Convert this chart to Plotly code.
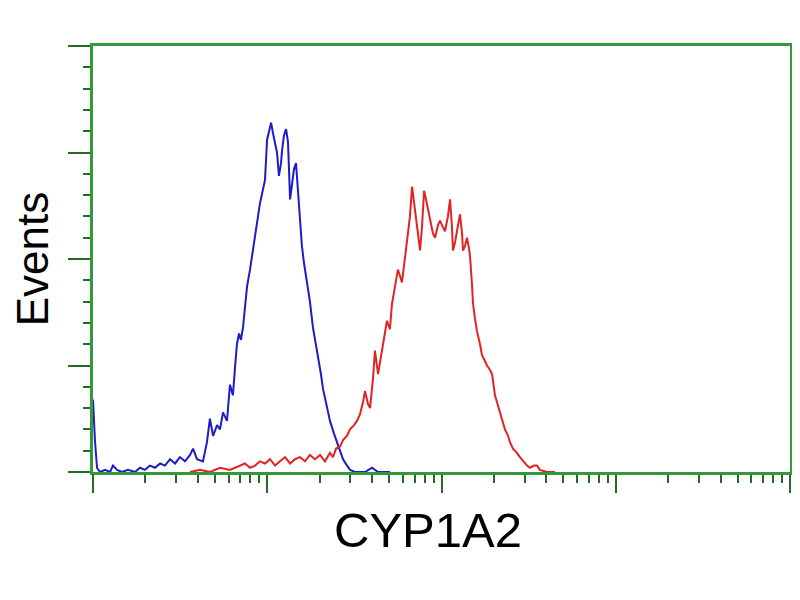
import plotly.graph_objects as go

# Fluorescence intensity given as log10 decades (0..4), counts per channel
blue_decade = [0.000, 0.011, 0.023, 0.040, 0.069, 0.098, 0.115, 0.138, 0.166, 0.201,
               0.241, 0.270, 0.298, 0.327, 0.356, 0.385, 0.413, 0.442, 0.471, 0.499,
               0.528, 0.557, 0.574, 0.597, 0.631, 0.654, 0.671, 0.689, 0.712, 0.729,
               0.746, 0.769, 0.786, 0.803, 0.815, 0.826, 0.838, 0.849, 0.861, 0.872,
               0.884, 0.901, 0.913, 0.924, 0.935, 0.947, 0.958, 0.970, 0.987, 0.999,
               1.010, 1.022, 1.033, 1.045, 1.056, 1.067, 1.079, 1.085, 1.096, 1.108,
               1.119, 1.131, 1.142, 1.153, 1.165, 1.176, 1.188, 1.199, 1.211, 1.228,
               1.245, 1.262, 1.280, 1.291, 1.308, 1.320, 1.343, 1.360, 1.383, 1.400,
               1.418, 1.435, 1.458, 1.475, 1.504, 1.561, 1.601, 1.636, 1.704]
blue_counts = [34, 15, 2, 0, 1, 0, 3, 1, 0, 1,
               0, 2, 1, 3, 2, 4, 3, 6, 4, 7,
               5, 8, 11, 6, 5, 14, 25, 17, 22, 20,
               28, 24, 41, 36, 49, 60, 65, 62, 68, 78,
               87, 95, 101, 107, 112, 120, 126, 131, 137, 156,
               160, 164, 159, 154, 150, 139, 145, 151, 158, 161,
               155, 128, 134, 142, 145, 131, 117, 106, 98, 90,
               80, 68, 60, 55, 46, 39, 31, 24, 18, 14,
               10, 6, 3, 1, 0, 0, 2, 0, 0]

red_decade = [0.557, 0.614, 0.671, 0.729, 0.786, 0.844, 0.872, 0.901, 0.930, 0.958,
              0.987, 1.016, 1.045, 1.073, 1.102, 1.131, 1.159, 1.188, 1.217, 1.245,
              1.274, 1.303, 1.331, 1.360, 1.377, 1.395, 1.418, 1.435, 1.458, 1.475,
              1.498, 1.515, 1.532, 1.550, 1.561, 1.578, 1.590, 1.607, 1.618, 1.636,
              1.653, 1.664, 1.676, 1.687, 1.704, 1.716, 1.733, 1.750, 1.762, 1.773,
              1.791, 1.808, 1.819, 1.831, 1.842, 1.848, 1.859, 1.877, 1.888, 1.900,
              1.911, 1.923, 1.934, 1.951, 1.963, 1.980, 1.991, 2.009, 2.020, 2.037,
              2.049, 2.060, 2.066, 2.078, 2.089, 2.106, 2.118, 2.123, 2.135, 2.146,
              2.158, 2.164, 2.175, 2.181, 2.192, 2.204, 2.221, 2.232, 2.250, 2.261,
              2.278, 2.290, 2.307, 2.324, 2.336, 2.353, 2.364, 2.382, 2.393, 2.410,
              2.433, 2.450, 2.468, 2.491, 2.508, 2.531, 2.548, 2.565, 2.605, 2.651]
red_counts = [0, 1, 0, 2, 1, 3, 4, 2, 3, 5,
              4, 6, 3, 5, 7, 4, 6, 7, 5, 8,
              6, 8, 5, 9, 7, 11, 12, 15, 17, 20,
              22, 24, 27, 33, 38, 32, 30, 44, 57, 46,
              55, 61, 66, 71, 67, 79, 87, 95, 92, 89,
              101, 113, 120, 134, 127, 121, 115, 104, 115, 132,
              128, 123, 118, 112, 110, 116, 118, 115, 113, 120,
              128, 115, 104, 108, 113, 121, 112, 104, 106, 110,
              105, 101, 88, 79, 72, 66, 60, 55, 52, 50,
              48, 46, 36, 31, 27, 23, 20, 17, 14, 11,
              9, 7, 5, 3, 2, 3, 3, 1, 0, 0]

x_title = "CYP1A2"
y_title = "Events"

fig = go.Figure()
fig.add_trace(go.Scatter(x=[10 ** d for d in blue_decade], y=blue_counts, mode="lines",
                         line=dict(color="#1c1cc8", width=2), showlegend=False))
fig.add_trace(go.Scatter(x=[10 ** d for d in red_decade], y=red_counts, mode="lines",
                         line=dict(color="#e02424", width=2), showlegend=False))

axis_green = "#33993a"
tick_green = "#246b24"

fig.update_layout(
    template="none",
    width=800, height=600,
    margin=dict(l=85, r=18, t=38, b=136, pad=0),
    paper_bgcolor="white", plot_bgcolor="white",
    font=dict(family="Liberation Sans, Arial, sans-serif", color="black"),
    xaxis=dict(type="log", range=[0, 4], dtick=1, showgrid=False, zeroline=False,
               automargin=False,
               showline=True, linecolor=axis_green, linewidth=3, mirror=True,
               ticks="outside", ticklen=18, tickwidth=2, tickcolor=tick_green,
               showticklabels=False,
               minor=dict(ticks="outside", ticklen=8, tickwidth=2, tickcolor=tick_green, showgrid=False)),
    yaxis=dict(range=[0, 200], dtick=50, showgrid=False, zeroline=False,
               automargin=False,
               title=dict(text=y_title, standoff=23, font=dict(size=44, color="black")),
               showline=True, linecolor=axis_green, linewidth=3, mirror=True,
               ticks="outside", ticklen=22, tickwidth=2, tickcolor=tick_green,
               showticklabels=False,
               minor=dict(dtick=10, ticks="outside", ticklen=7, tickwidth=2, tickcolor=tick_green, showgrid=False)),
    annotations=[
        dict(text=x_title, xref="paper", yref="paper", x=0.4806, y=-0.136,
             xanchor="center", yanchor="middle", showarrow=False,
             font=dict(size=49, color="black")),
    ],
)

fig.write_html("out.html")
